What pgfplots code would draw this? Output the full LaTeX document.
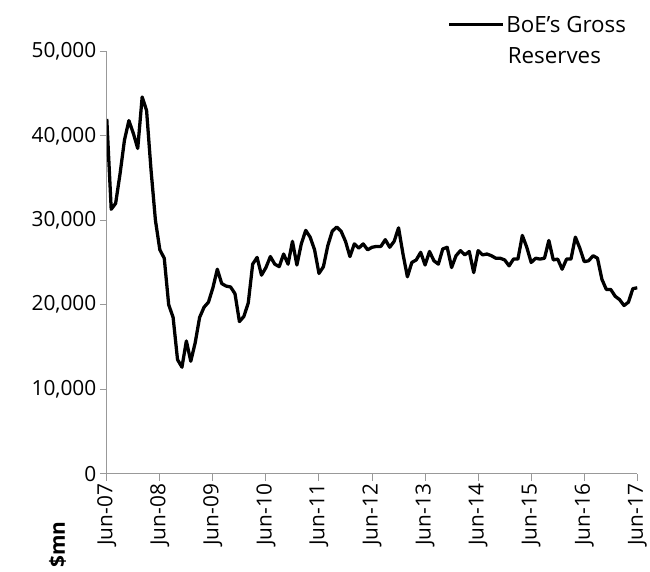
\documentclass[border=0pt]{standalone}
\usepackage{pgfplots}
\pgfplotsset{compat=1.18}
\usepackage{fontspec}
\setmainfont{Open Sans}
\begin{document}
\begin{tikzpicture}
\begin{axis}[
  scale only axis, width=534pt, height=425pt,
  xmin=0, xmax=120, ymin=0, ymax=50000,
  axis lines=left,
  axis line style={draw=gray!80, line width=1pt, -},
  tick align=outside, major tick length=7pt,
  tick style={draw=gray!80, line width=1pt},
  xtick={0,12,...,120},
  xticklabels={Jun-07,Jun-08,Jun-09,Jun-10,Jun-11,Jun-12,Jun-13,Jun-14,Jun-15,Jun-16,Jun-17},
  ytick={0,10000,20000,30000,40000,50000},
  yticklabels={0,{10,000},{20,000},{30,000},{40,000},{50,000}},
  scaled y ticks=false,
  xticklabel style={rotate=90, anchor=east, font=\fontsize{21}{25}\selectfont},
  yticklabel style={font=\fontsize{21}{25}\selectfont},
  legend style={draw=none, fill=none, at={(0.636,1.063)}, anchor=west,
    font=\fontsize{22.5}{26}\selectfont, cells={anchor=west}},
  legend image code/.code={\draw[#1] (0pt,0pt) -- (54pt,0pt);},
]
\addplot[black, line width=3.3pt, line join=round] coordinates {
(0,42000)(1,31300)(2,32000)(3,35500)(4,39500)(5,41800)(6,40300)(7,38500)(8,44600)(9,43000)
(10,36000)(11,30000)(12,26500)(13,25500)(14,20000)(15,18500)(16,13500)(17,12600)(18,15700)(19,13300)
(20,15500)(21,18500)(22,19700)(23,20300)(24,22000)(25,24200)(26,22500)(27,22200)(28,22100)(29,21300)
(30,18000)(31,18600)(32,20200)(33,24800)(34,25600)(35,23500)(36,24400)(37,25700)(38,24800)(39,24500)
(40,26000)(41,24800)(42,27500)(43,24700)(44,27200)(45,28800)(46,28000)(47,26500)(48,23700)(49,24500)
(50,27000)(51,28700)(52,29200)(53,28700)(54,27500)(55,25700)(56,27200)(57,26700)(58,27200)(59,26500)
(60,26800)(61,26900)(62,26900)(63,27700)(64,26800)(65,27500)(66,29100)(67,26000)(68,23300)(69,25000)
(70,25300)(71,26200)(72,24700)(73,26300)(74,25200)(75,24800)(76,26600)(77,26800)(78,24400)(79,25800)
(80,26400)(81,25900)(82,26300)(83,23800)(84,26400)(85,25900)(86,26000)(87,25800)(88,25500)(89,25500)
(90,25300)(91,24600)(92,25400)(93,25400)(94,28200)(95,26800)(96,25000)(97,25500)(98,25400)(99,25500)
(100,27600)(101,25300)(102,25400)(103,24200)(104,25400)(105,25400)(106,28000)(107,26700)(108,25100)(109,25200)
(110,25800)(111,25500)(112,23000)(113,21800)(114,21800)(115,21000)(116,20600)(117,19900)(118,20300)(119,21900)
(120,22000)};
\addlegendentry{BoE's Gross}
\end{axis}
\node[anchor=base west, inner sep=0pt, font=\fontsize{22.5}{26}\selectfont] at ([xshift=403.5pt,yshift=-12.3pt]current axis.north west) {Reserves};
\node[rotate=90, anchor=east, font=\fontsize{21}{25}\selectfont\bfseries] at ([xshift=-49.5pt,yshift=-45pt]current axis.south west) {\$mn};
\path ([xshift=-107.5pt,yshift=-88.3pt]current axis.south west) rectangle ++(650pt,565pt);
\end{tikzpicture}
\end{document}
